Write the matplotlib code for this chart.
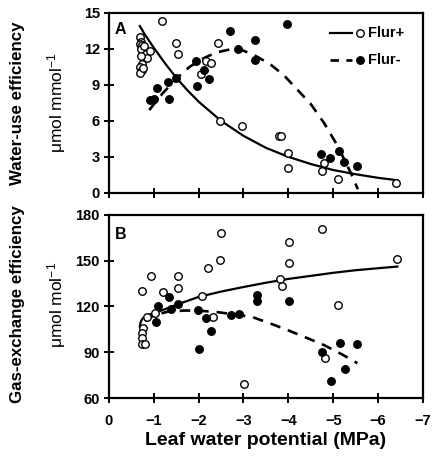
import matplotlib
matplotlib.use("Agg")
import matplotlib.pyplot as plt

plt.rcParams['font.family'] = ['Liberation Sans', 'DejaVu Sans']
plt.rcParams['mathtext.fontset'] = 'custom'
plt.rcParams['mathtext.rm'] = 'Liberation Sans'
plt.rcParams['mathtext.default'] = 'regular'

# ---- panel A: water-use efficiency (umol mmol-1) ----
xa_open = [-0.69, -0.71, -0.69, -0.74, -0.71, -0.79, -0.82, -0.91, -0.86, -0.71,
           -0.74, -0.69, -0.73, -0.69, -0.76,
           -1.18, -1.49, -1.53, -2.44, -2.17, -2.27, -2.06, -2.48, -2.97,
           -3.80, -3.84, -4.00, -4.00, -4.80, -4.74, -5.10, -6.41]
ya_open = [12.97, 12.6, 12.4, 12.3, 11.97, 12.2, 11.6, 11.8, 11.2, 11.4,
           10.75, 10.5, 10.2, 10.0, 10.4,
           14.3, 12.5, 11.6, 12.5, 11.0, 10.8, 9.9, 6.0, 5.6,
           4.7, 4.7, 3.3, 2.05, 2.47, 1.78, 1.14, 0.8]

xa_fill = [-0.91, -1.00, -1.07, -1.33, -1.31, -1.50, -1.97, -2.13, -2.23, -1.95,
           -2.71, -2.87, -3.26, -3.26, -3.97, -4.73, -4.93, -5.12, -5.23, -5.54]
ya_fill = [7.7, 7.8, 8.7, 7.8, 9.2, 9.6, 8.9, 10.2, 9.5, 11.0,
           13.5, 12.0, 12.7, 11.1, 14.1, 3.25, 2.9, 3.45, 2.6, 2.2]

# fitted curves
xa_fit_plus = [-0.69, -0.8, -1.0, -1.25, -1.5, -1.75, -2.0, -2.25, -2.5, -3.0, -3.5,
               -4.0, -4.5, -5.0, -5.5, -6.0, -6.43]
ya_fit_plus = [13.9, 13.2, 12.1, 10.8, 9.6, 8.55, 7.6, 6.8, 6.0, 4.75, 3.75,
               3.0, 2.4, 1.9, 1.55, 1.25, 1.05]

xa_fit_minus = [-0.9, -1.2, -1.5, -1.8, -2.1, -2.4, -2.7, -3.0, -3.3, -3.6, -3.9,
                -4.2, -4.5, -4.8, -5.1, -5.4, -5.55]
ya_fit_minus = [6.9, 8.3, 9.5, 10.5, 11.2, 11.7, 11.95, 11.85, 11.35, 10.7, 9.8,
                8.6, 7.4, 5.8, 3.9, 1.6, 0.3]

# ---- panel B: gas-exchange efficiency (umol mol-1) ----
xb_open = [-0.73, -0.76, -0.73, -0.74, -0.73, -0.80, -0.86, -1.02, -0.93, -1.21,
           -1.54, -1.53, -2.08, -2.22, -2.48, -2.49, -2.32, -3.02, -3.82, -3.85,
           -4.01, -4.01, -4.74, -4.82, -5.11, -6.43]
yb_open = [130.2, 105.7, 102.4, 99.2, 95.5, 95.5, 113.3, 115.5, 140.0, 129.3,
           140.0, 132.3, 126.9, 145.2, 150.3, 168.0, 113.0, 69.2, 138.0, 133.6,
           148.7, 162.5, 170.7, 86.0, 121.0, 151.0]

xb_fill = [-1.10, -1.06, -1.34, -1.39, -1.53, -1.99, -2.02, -2.17, -2.27, -2.73,
           -2.91, -3.30, -3.30, -4.01, -4.74, -4.96, -5.16, -5.27, -5.54]
yb_fill = [120.5, 110.0, 126.4, 118.3, 121.4, 117.7, 91.9, 112.2, 104.0, 114.4,
           115.1, 127.5, 123.6, 123.6, 90.4, 71.4, 96.3, 79.0, 95.4]

xb_fit_plus = [-0.69, -0.70, -0.72, -0.75, -0.8, -0.9, -1.1, -1.5, -2.0, -2.5, -3.0,
               -3.5, -4.0, -4.5, -5.0, -5.5, -6.0, -6.43]
yb_fit_plus = [106.8, 108.8, 110.5, 112.0, 113.3, 114.6, 116.5, 121.0, 126.2, 129.7,
               132.7, 135.5, 138.0, 140.0, 142.0, 143.7, 145.0, 146.1]

xb_fit_minus = [-0.8, -1.0, -1.3, -1.7, -2.0, -2.4, -2.8, -3.2, -3.6, -4.0, -4.4,
                -4.8, -5.2, -5.54]
yb_fit_minus = [110.5, 114.0, 116.5, 117.3, 117.2, 116.3, 114.8, 113.0, 108.8, 104.3,
                99.5, 94.6, 88.5, 82.8]

xticks = [0, -1, -2, -3, -4, -5, -6, -7]
xticklabels = ['0', '\u22121', '\u22122', '\u22123', '\u22124', '\u22125', '\u22126', '\u22127']
ya_ticks = [0, 3, 6, 9, 12, 15]
yb_ticks = [60, 90, 120, 150, 180]

fig = plt.figure(figsize=(4.32, 4.58), dpi=100)
ax_a = fig.add_axes([0.252, 0.579, 0.727, 0.393])
ax_b = fig.add_axes([0.252, 0.131, 0.727, 0.400])

ms = 5.4
dash = (0, (4, 3))

for ax in (ax_a, ax_b):
    ax.set_xlim(0, -7)
    ax.set_xticks(xticks)
    for s in ax.spines.values():
        s.set_linewidth(1.6)
    ax.tick_params(direction='inout', length=7, width=1.4, labelsize=10.5, pad=3)
ax_b.tick_params(axis='x', pad=8)

# panel A
ax_a.plot(xa_fit_plus, ya_fit_plus, color='black', lw=1.6)
ax_a.plot(xa_fit_minus, ya_fit_minus, color='black', lw=1.9, linestyle=dash)
ax_a.plot(xa_open, ya_open, 'o', ms=ms, mfc='white', mec='black', mew=1.0)
ax_a.plot(xa_fill, ya_fill, 'o', ms=ms, mfc='black', mec='black', mew=1.0)
ax_a.set_ylim(0, 15)
ax_a.set_yticks(ya_ticks)
ax_a.set_yticklabels([str(v) for v in ya_ticks], fontweight='bold')
ax_a.set_xticklabels([])
ax_a.text(0.038, 0.91, 'A', transform=ax_a.transAxes, fontsize=11.5,
          fontweight='bold', ha='center', va='center')

# legend drawn by hand
ax_a.plot([0.704, 0.774], [0.889, 0.889], transform=ax_a.transAxes, color='black', lw=1.6)
ax_a.plot([0.800], [0.889], 'o', transform=ax_a.transAxes, ms=ms, mfc='white', mec='black', mew=1.0)
ax_a.text(0.825, 0.889, 'Flur+', transform=ax_a.transAxes, fontsize=10.5,
          fontweight='bold', va='center')
ax_a.plot([0.704, 0.774], [0.739, 0.739], transform=ax_a.transAxes, color='black',
          lw=1.9, linestyle=(0, (3.2, 2.8)))
ax_a.plot([0.800], [0.739], 'o', transform=ax_a.transAxes, ms=ms, mfc='black', mec='black')
ax_a.text(0.825, 0.739, 'Flur-', transform=ax_a.transAxes, fontsize=10.5,
          fontweight='bold', va='center')

# panel B
ax_b.plot(xb_fit_plus, yb_fit_plus, color='black', lw=1.6)
ax_b.plot(xb_fit_minus, yb_fit_minus, color='black', lw=1.9, linestyle=dash)
ax_b.plot(xb_open, yb_open, 'o', ms=ms, mfc='white', mec='black', mew=1.0)
ax_b.plot(xb_fill, yb_fill, 'o', ms=ms, mfc='black', mec='black', mew=1.0)
ax_b.set_ylim(60, 180)
ax_b.set_yticks(yb_ticks)
ax_b.set_yticklabels([str(v) for v in yb_ticks], fontweight='bold')
ax_b.set_xticklabels(xticklabels, fontweight='bold')
ax_b.text(0.038, 0.89, 'B', transform=ax_b.transAxes, fontsize=11.5,
          fontweight='bold', ha='center', va='center')
ax_b.set_xlabel('Leaf water potential (MPa)', fontsize=14, fontweight='bold', labelpad=3)

# y labels (two lines each, placed in figure coordinates)
fig.text(0.040, 0.775, 'Water-use efficiency', rotation=90, fontsize=12.2,
         fontweight='bold', ha='center', va='center')
fig.text(0.130, 0.775, '\u03bcmol mmol$^{-1}$', rotation=90, fontsize=12.5,
         ha='center', va='center')
fig.text(0.040, 0.335, 'Gas-exchange efficiency', rotation=90, fontsize=12.2,
         fontweight='bold', ha='center', va='center')
fig.text(0.130, 0.335, '\u03bcmol mol$^{-1}$', rotation=90, fontsize=12.5,
         ha='center', va='center')

fig.savefig('out.png', dpi=100)
